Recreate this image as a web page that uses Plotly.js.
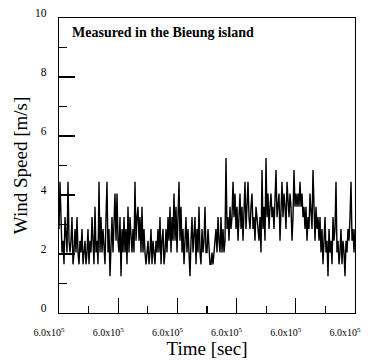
<!DOCTYPE html>
<html>
<head>
<meta charset="utf-8">
<script src="https://cdn.plot.ly/plotly-3.0.1.min.js"></script>
<style>html,body{margin:0;padding:0;background:#fff;}#chart{width:370px;height:363px;}</style>
</head>
<body>
<div id="chart"></div>
<script>
// Wind speed samples [m/s] (one per sample)
const windSpeed = [
  2.85, 4.45, 3.25, 2.05, 2.45, 1.65, 3.25, 2.45, 2.05, 4.45, 2.45, 2.05, 2.45, 3.25, 1.65, 2.05, 2.85, 2.05, 3.25, 2.05,
  1.65, 2.45, 2.05, 2.85, 1.65, 2.05, 2.45, 1.65, 2.05, 2.85, 1.65, 2.45, 2.05, 3.25, 2.05, 1.65, 3.6, 2.05, 2.45, 1.65,
  4.45, 2.05, 3.25, 2.05, 2.85, 2.05, 1.65, 3.25, 4.45, 2.05, 2.85, 1.25, 2.45, 3.25, 2.05, 2.85, 4.05, 2.45, 4.05, 2.45,
  2.05, 3.25, 1.25, 2.85, 2.05, 3.25, 2.05, 2.85, 1.65, 3.6, 2.05, 3.25, 2.45, 2.05, 2.85, 2.05, 4.45, 2.45, 3.25, 3.6,
  2.45, 3.25, 2.05, 3.6, 2.05, 2.85, 2.05, 1.65, 2.05, 2.45, 1.65, 2.05, 2.85, 1.65, 2.45, 2.05, 1.65, 2.45, 2.05, 2.85,
  2.05, 3.25, 1.65, 2.45, 2.85, 1.65, 2.05, 2.85, 2.05, 3.25, 2.45, 3.6, 2.05, 3.25, 2.45, 4.05, 2.45, 3.6, 2.05, 3.25,
  4.45, 2.45, 3.6, 2.05, 2.85, 1.65, 2.45, 3.25, 2.05, 2.85, 2.05, 1.25, 2.45, 3.25, 2.05, 2.85, 3.25, 1.65, 2.85, 2.05,
  3.6, 2.05, 1.65, 2.85, 2.05, 2.45, 3.6, 2.05, 2.05, 2.85,
  2.05, 1.65, 1.65, 2.05, 1.65, 2.05, 2.45, 2.85, 2.05, 3.25,
  2.45, 2.05, 3.25, 2.05, 2.85, 2.05, 2.45, 5.25, 2.85, 3.25, 2.45, 3.6, 2.85, 3.25, 4.45, 3.25, 4.05, 2.85, 3.6, 2.45,
  3.25, 4.05, 2.85, 3.6, 2.45, 3.25, 4.45, 2.85, 3.6, 4.45, 3.25, 2.85, 3.6, 4.05, 2.85, 3.25, 2.45, 3.6, 3.25, 2.85,
  2.45, 3.25, 2.05, 4.85, 2.85, 3.6, 2.45, 5.25, 3.25, 4.05, 2.85, 3.6, 4.05, 3.25, 3.6, 2.85, 4.05, 4.85, 3.25, 3.6,
  4.05, 2.45, 3.6, 4.45, 3.25, 4.05, 3.6, 2.85, 4.45, 3.6, 3.25, 4.05, 3.6, 2.45, 3.25, 4.85, 3.6, 4.05, 3.6, 4.05,
  3.6, 4.45, 3.6, 4.05, 3.25, 3.6, 2.85, 3.6, 2.45, 3.25, 2.85, 4.05, 3.25, 2.85, 4.85, 3.25, 2.45, 3.6, 2.85, 3.25,
  2.45, 3.25, 2.05, 2.85, 1.65, 2.45, 3.25, 2.05, 2.45, 1.25, 2.85, 2.05, 2.45, 1.65, 3.25, 2.45, 2.85, 4.45, 2.05, 2.45,
  1.65, 2.05, 2.85, 1.65, 2.45, 2.05, 1.25, 2.45, 2.05, 2.85, 2.45, 3.25, 4.45, 2.45, 2.85, 2.05, 2.85
];
// Sampling of the record [sec]
const timeStart = 600000;
const timeStep = 2;
const time = windSpeed.map((_, i) => timeStart + i * timeStep);
const timeEnd = time[time.length - 1];

// Tick labels on the time axis (all read as 6.0x10^5)
const xTickText = ["6.0x10<sup>5</sup>", "6.0x10<sup>5</sup>", "6.0x10<sup>5</sup>", "6.0x10<sup>5</sup>", "6.0x10<sup>5</sup>", "6.0x10<sup>5</sup>"];
const xTickVals = xTickText.map((_, k) => timeStart + k * (timeEnd - timeStart) / 5);
const xMinorVals = xTickVals.slice(0, -1).map((v, k) => (v + xTickVals[k + 1]) / 2);
// Wind speed axis ticks
const yTickVals = [0, 2, 4, 6, 8, 10];
const yMinorVals = [1, 3, 5, 7, 9];

const serif = "Liberation Serif, Times New Roman, serif";

const trace = {
  x: time, y: windSpeed, type: "scatter", mode: "lines",
  line: {color: "#000", width: 1.4}, hoverinfo: "skip", showlegend: false
};

const layout = {
  width: 370, height: 363,
  margin: {l: 59, r: 15, t: 18, b: 50},
  paper_bgcolor: "#fff", plot_bgcolor: "#fff",
  font: {family: serif, color: "#000"},
  xaxis: {
    range: [timeStart, timeEnd],
    tickmode: "array", tickvals: xTickVals, ticktext: xTickText,
    ticks: "inside", ticklen: 15, tickwidth: 1.3, tickcolor: "#000",
    showline: true, linecolor: "#000", linewidth: 1.3, mirror: true,
    showgrid: false, zeroline: false,
    tickfont: {family: serif, size: 10, color: "#000"},
    ticklabelshift: -10, ticklabelstandoff: 10,
    title: {text: "Time [sec]", font: {family: serif, size: 19, color: "#000"}, standoff: 2}
  },
  xaxis2: {
    overlaying: "x", matches: "x", range: [timeStart, timeEnd], anchor: "y",
    tickmode: "array", tickvals: xMinorVals, ticktext: xMinorVals.map(() => ""),
    ticks: "inside", ticklen: 7, tickwidth: 1.3, tickcolor: "#000",
    showline: false, showgrid: false, zeroline: false, showticklabels: false
  },
  yaxis: {
    range: [0, 10], tickmode: "array", tickvals: yTickVals, ticktext: yTickVals.map(String),
    ticks: "inside", ticklen: 16, tickwidth: 1.3, tickcolor: "#000",
    showline: true, linecolor: "#000", linewidth: 1.3, mirror: true,
    showgrid: false, zeroline: false,
    tickfont: {family: serif, size: 11.5, color: "#000"},
    ticklabelshift: -5, ticklabelstandoff: 9,
    title: {text: "Wind Speed [m/s]", font: {family: serif, size: 19, color: "#000"}, standoff: 2}
  },
  yaxis2: {
    overlaying: "y", range: [0, 10], anchor: "x",
    tickmode: "array", tickvals: yMinorVals, ticktext: yMinorVals.map(() => ""),
    ticks: "inside", ticklen: 8, tickwidth: 1.3, tickcolor: "#000",
    showline: false, showgrid: false, zeroline: false, showticklabels: false
  },
  annotations: [{
    text: "<b>Measured in the Bieung island</b>",
    xref: "paper", yref: "paper", x: 0.037, y: 0.952,
    xanchor: "left", yanchor: "middle", showarrow: false,
    font: {family: serif, size: 14, color: "#000"}
  }]
};

const minorHolder = {x: [timeStart], y: [0], xaxis: "x2", yaxis: "y2", type: "scatter", mode: "none", hoverinfo: "skip", showlegend: false};

Plotly.newPlot("chart", [trace, minorHolder], layout, {displayModeBar: false, staticPlot: true});
</script>
</body>
</html>
